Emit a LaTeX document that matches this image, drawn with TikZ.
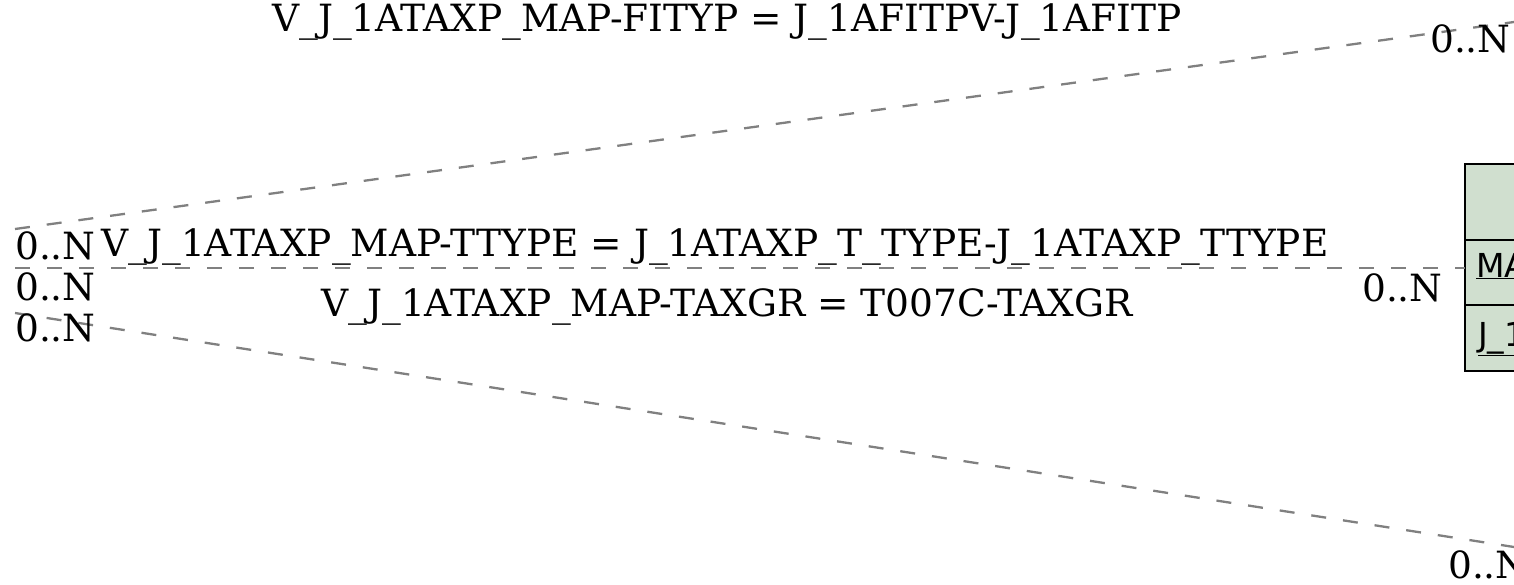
\documentclass[tikz,border=0pt]{standalone}
\usepackage{fontspec}
\setmainfont{DejaVu Serif}
\setsansfont{DejaVu Sans}
\usetikzlibrary{positioning}

\definecolor{tablegreen}{RGB}{208,223,207}

\begin{document}
\begin{tikzpicture}[
            x = 1pt, y = -1pt, % picture units follow the pixels
            relation/.style = {draw = gray, line width = 2.3pt,
                dash pattern = on 15pt off 17pt},
            card/.style = {inner sep = 0pt, font = \fontsize{37.5}{40}\selectfont},
            rellabel/.style = {inner sep = 0pt, font = \fontsize{37.5}{40}\selectfont},
            tablerow/.style = {draw = black, line width = 2.5pt, fill = tablegreen,
                minimum width = 200pt, anchor = north west, inner sep = 0pt,
                outer sep = 0pt},
            fieldname/.style = {inner sep = 0pt, anchor = base west,
                font = \sffamily\fontsize{33}{36}\selectfont}
        ]

        \useasboundingbox (0,0) rectangle (1514,584);
        \clip (0,0) rectangle (1514,584);

        % table box on the right
        \node[tablerow, minimum height = 76pt] (head) at (1465,164) {};
        \node[tablerow, minimum height = 65pt] (row1) at (head.south west) {};
        \node[tablerow, minimum height = 66pt] (row2) at (row1.south west) {};
        \node[fieldname] (mandt) at ([xshift = 11pt, yshift = -4.5pt]row1.west) {\underline{MANDT}};
        \node[fieldname] (fkey) at ([xshift = 13pt, yshift = -8pt]row2.west) {\underline{J\_1ATAXP}};

        % loose ends of the relations
        \coordinate (fityp l) at (15,229);
        \coordinate (fityp r) at (1514,22);
        \coordinate (ttype l) at (15,268);
        \coordinate (ttype r) at (1465,268);
        \coordinate (taxgr l) at (15,313);
        \coordinate (taxgr r) at (1514,547);

        \path[relation] (fityp l) -- (fityp r);
        \path[relation] (ttype l) -- (ttype r);
        \path[relation] (taxgr l) -- (taxgr r);

        % relation labels
        \node[rellabel] (fityp lab) at (727,22) {V\_J\_1ATAXP\_MAP-FITYP = J\_1AFITPV-J\_1AFITP};
        \node[rellabel] (ttype lab) at (715,247) {V\_J\_1ATAXP\_MAP-TTYPE = J\_1ATAXP\_T\_TYPE-J\_1ATAXP\_TTYPE};
        \node[rellabel] (taxgr lab) at (727,307) {V\_J\_1ATAXP\_MAP-TAXGR = T007C-TAXGR};

        % cardinalities
        \node[card, anchor = west] (c1) at (15,246) {0..N};
        \node[card, anchor = west] (c2) at (15,287) {0..N};
        \node[card, anchor = west] (c3) at (15,328) {0..N};
        \node[card, anchor = west] (c4) at (1362,288) {0..N};
        \node[card, anchor = west] (c5) at (1430,39) {0..N};
        \node[card, anchor = west] (c6) at (1448,565) {0..N};

    \end{tikzpicture}
\end{document}
